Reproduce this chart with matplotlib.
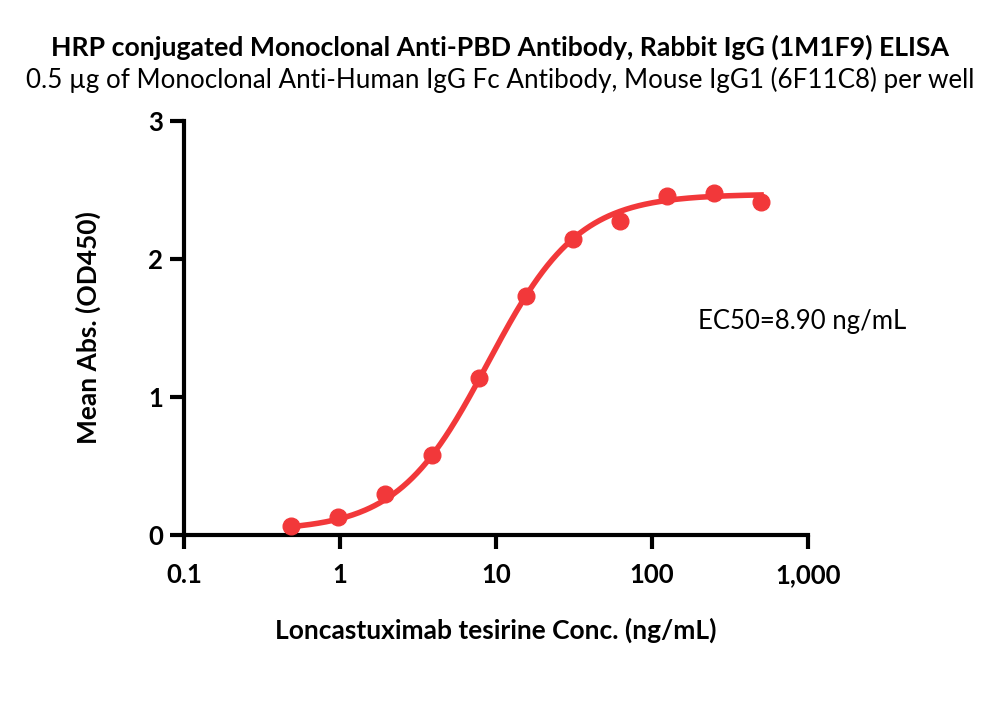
import numpy as np
import matplotlib
matplotlib.use("Agg")
import matplotlib.pyplot as plt
from matplotlib.ticker import FixedLocator, FixedFormatter, NullLocator

# measured points (ng/mL vs OD450)
conc = [0.488, 0.977, 1.95, 3.91, 7.81, 15.6, 31.25, 62.5, 125, 250, 500]
od450 = [0.067, 0.133, 0.30, 0.58, 1.137, 1.734, 2.145, 2.276, 2.46, 2.48, 2.41]

# 4PL fit parameters
bottom, top, ec50, hill = 0.03, 2.47, 8.90, 1.5

xticks = [0.1, 1, 10, 100, 1000]
xticklabels = ["0.1", "1", "10", "100", "1,000"]
yticks = [0, 1, 2, 3]

red = "#f2383a"
plt.rcParams["font.family"] = ["Lato", "DejaVu Sans"]

fig = plt.figure(figsize=(10, 7.11), dpi=100)
ax = fig.add_axes([0.184, 1 - 535 / 711, 0.624, (535 - 121) / 711])

xfit = np.logspace(np.log10(conc[0]), np.log10(conc[-1]), 300)
yfit = bottom + (top - bottom) / (1 + (ec50 / xfit) ** hill)
ax.plot(xfit, yfit, color=red, lw=4, zorder=2)
ax.plot(conc, od450, "o", color=red, ms=12, zorder=3, clip_on=False)

ax.set_xscale("log")
ax.set_xlim(0.1, 1000)
ax.set_ylim(0, 3)
ax.xaxis.set_major_locator(FixedLocator(xticks))
ax.xaxis.set_major_formatter(FixedFormatter(xticklabels))
ax.xaxis.set_minor_locator(NullLocator())
ax.set_yticks(yticks)

for s in ["top", "right"]:
    ax.spines[s].set_visible(False)
for s in ["left", "bottom"]:
    ax.spines[s].set_linewidth(3)
ax.tick_params(width=3, length=10, labelsize=18.5)
for lab in ax.get_xticklabels() + ax.get_yticklabels():
    lab.set_fontweight("bold")
ax.tick_params(axis="x", pad=10)
ax.tick_params(axis="y", pad=5)

ax.set_xlabel("Loncastuximab tesirine Conc. (ng/mL)", fontsize=19, fontweight="bold", labelpad=22)
ax.set_ylabel("Mean Abs. (OD450)", fontsize=19, fontweight="bold", labelpad=34)

ax.text(0.824, 0.515, "EC50=8.90 ng/mL", transform=ax.transAxes, fontsize=18.5, va="center")

fig.text(0.5, 1 - 47 / 711, "HRP conjugated Monoclonal Anti-PBD Antibody, Rabbit IgG (1M1F9) ELISA",
         ha="center", va="center", fontsize=19.2, fontweight="bold")
fig.text(0.5, 1 - 80 / 711, "0.5 µg of Monoclonal Anti-Human IgG Fc Antibody, Mouse IgG1 (6F11C8) per well",
         ha="center", va="center", fontsize=18.7)

fig.savefig("out.png", dpi=100)
